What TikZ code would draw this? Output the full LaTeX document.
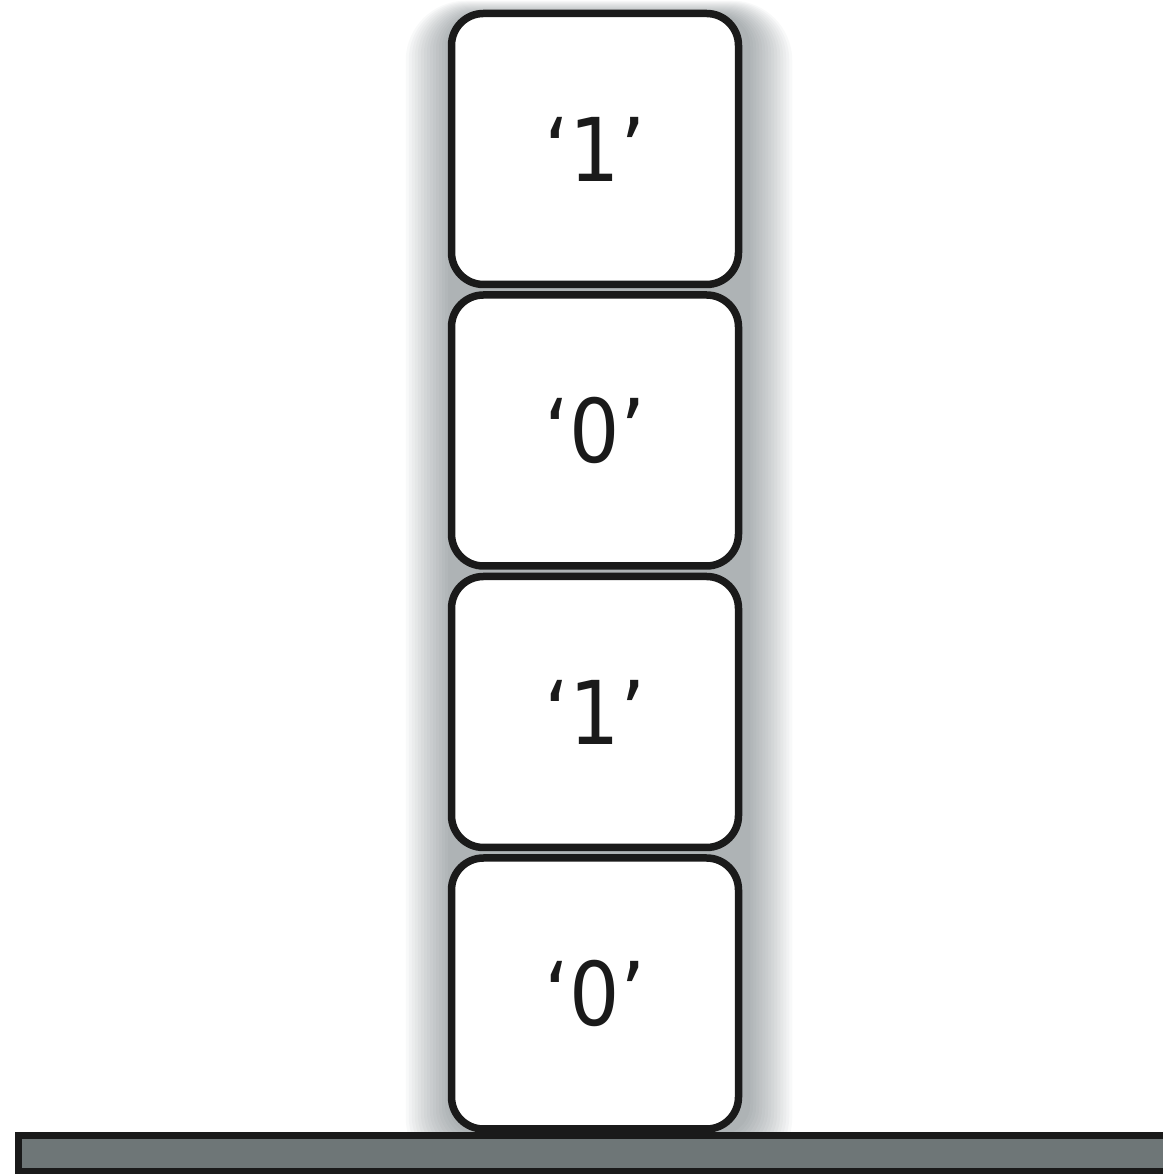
\documentclass[tikz,border=0pt]{standalone}
\usepackage{fontspec}
\setmainfont{DejaVu Sans Condensed}
\usetikzlibrary{positioning,calc,backgrounds}

\definecolor{glowgray}{RGB}{60,72,78}
\definecolor{floorgray}{RGB}{110,118,119}
\definecolor{inkblack}{RGB}{26,26,26}

\tikzset{
  bit/.style={draw=inkblack, line width=7.5pt, fill=white, rounded corners=32pt,
    minimum width=287pt, minimum height=271pt, inner sep=0pt,
    text=inkblack, font=\fontsize{88}{90}\selectfont},
  floor/.style={draw=inkblack, line width=7pt, fill=floorgray},
}

\begin{document}
\begin{tikzpicture}[x=1pt,y=1pt]
	\useasboundingbox (0,0) rectangle (1162,1174);
	% stack of bits, top to bottom
	\node[bit] (b1) at (595,1025) {‘1’};
	\node[bit, below=3pt of b1] (b2) {‘0’};
	\node[bit, below=3pt of b2] (b3) {‘1’};
	\node[bit, below=3pt of b3] (b4) {‘0’};
	% soft glow behind the stack
	\begin{scope}[on background layer]
		\foreach \r in {1,...,15}
			\fill[glowgray, opacity=0.034, rounded corners={(30+2*\r)*1pt}]
				($(b1.north west)+(-3*\r+3,\r-6)$) rectangle ($(b4.south east)+(3*\r+5,-3*\r)$);
	\end{scope}
	% the floor
	\draw[floor] (18.5,2.5) rectangle (1180,38.5);
\end{tikzpicture}
\end{document}
